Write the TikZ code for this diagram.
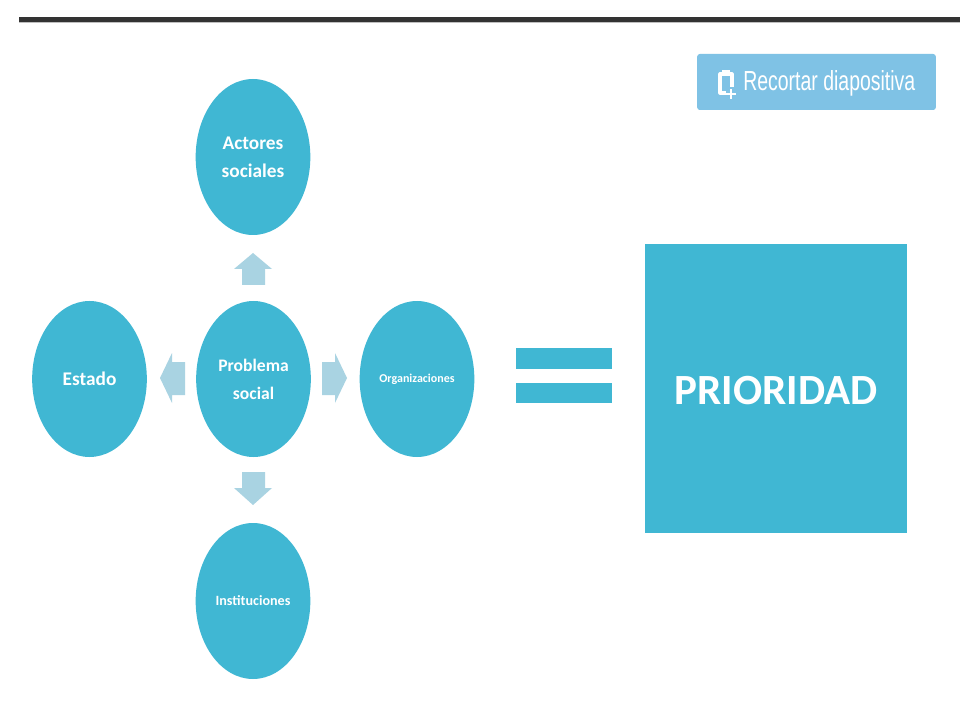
\documentclass[tikz,border=0pt]{standalone}
\usepackage{fontspec}
\setmainfont{Carlito}
\newfontfamily\btnfont{Liberation Sans}
\usetikzlibrary{shapes.geometric}
\definecolor{teal1}{HTML}{40B7D3}
\definecolor{arrowc}{HTML}{A9D3E2}
\definecolor{btn}{HTML}{7FC2E5}
\definecolor{barc}{HTML}{333333}
\tikzset{
  blob/.style={ellipse,fill=teal1,inner sep=0pt,minimum width=86pt,minimum height=117pt,text=white,align=center,font=\bfseries\fontsize{14.5}{21}\selectfont},
  blockarrow/.style={fill=arrowc,draw=none},
  tealbar/.style={fill=teal1,draw=none}
}
\begin{document}
\begin{tikzpicture}[x=0.75pt,y=-0.75pt]
\useasboundingbox (0,0) rectangle (960,720);
\fill[white] (0,0) rectangle (960,720);
% top rule
\fill[black!25] (19,21) rectangle (960,23.5);
\fill[barc] (19,17) rectangle (960,22);
% button
\node[fill=btn,rounded corners=2pt,minimum width=179pt,minimum height=42pt,inner sep=0pt] (btn) at (816.5,82) {};
\node[text=white,font=\btnfont\fontsize{17}{20}\selectfont,inner sep=0pt,anchor=west] (btntxt) at (743,83) {\resizebox{129pt}{15pt}{Recortar diapositiva}};
\draw[white,line width=2.4pt,line join=round] (724,74) -- (720,74) -- (720,93) -- (726,93) (729,74) -- (732,74) -- (732,87);
\fill[white] (722,70) rectangle (730,76);
\draw[white,line width=2pt] (726,94) -- (736,94) (731,89) -- (731,99);
% circles
\node[blob] (actores) at (253,157) {Actores\\sociales};
\node[blob,font=\bfseries\fontsize{13.2}{21}\selectfont] (problema) at (253.5,379) {Problema\\social};
\node[blob] (estado) at (89.5,379) {Estado};
\node[blob,font=\bfseries\fontsize{9}{10}\selectfont] (org) at (417,379) {Organizaciones};
\node[blob,font=\bfseries\fontsize{10.6}{12}\selectfont] (inst) at (253,601) {Instituciones};
% block arrows
\fill[blockarrow] (253,253) -- (272,269) -- (265,269) -- (265,285) -- (242,285) -- (242,269) -- (234,269) -- cycle;
\fill[blockarrow] (253,505) -- (272,488) -- (265,488) -- (265,472) -- (242,472) -- (242,488) -- (234,488) -- cycle;
\fill[blockarrow] (347,378) -- (335,353) -- (335,362) -- (322,362) -- (322,395) -- (335,395) -- (335,403) -- cycle;
\fill[blockarrow] (160,378) -- (172,353) -- (172,362) -- (185,362) -- (185,395) -- (172,395) -- (172,403) -- cycle;
% equals
\fill[tealbar] (516,348) rectangle (612,369);
\fill[tealbar] (516,383) rectangle (612,403);
% priority box
\node[fill=teal1,minimum width=196.5pt,minimum height=216.75pt,inner sep=0pt] (prioridad) at (776,388.5) {};
\node[text=white,font=\bfseries\fontsize{32.3}{38}\selectfont,inner sep=0pt] (priotxt) at (776,391) {PRIORIDAD};
\end{tikzpicture}
\end{document}
